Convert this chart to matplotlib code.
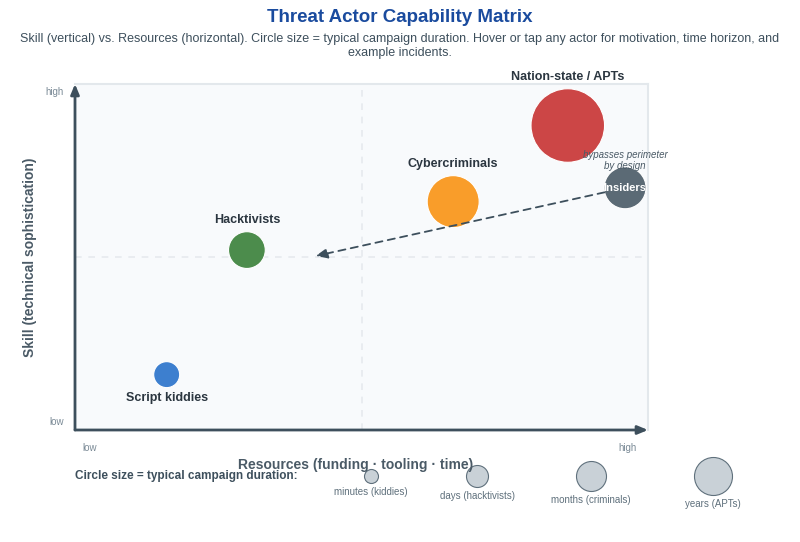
import matplotlib
matplotlib.use("Agg")
import matplotlib.pyplot as plt

plt.rcParams["font.family"] = ["Liberation Sans", "DejaVu Sans"]

# actor positions (resources = x, skill = y), axis range 0..10
actors = ["Script kiddies", "Hacktivists", "Cybercriminals", "Nation-state / APTs", "Insiders"]
resources = [1.6, 3.0, 6.6, 8.6, 9.6]
skill = [1.6, 5.2, 6.6, 8.8, 7.0]
# relative campaign duration weight (bubble area)
duration_weight = [1, 2, 4, 8, 2.6]
colors = ["#3d7fcf", "#4c8c4c", "#f99d2a", "#cc4646", "#5b6a75"]
label_side = ["below", "above", "above", "above", "inside"]

legend_labels = ["minutes (kiddies)", "days (hacktivists)", "months (criminals)", "years (APTs)"]

DARK = "#3d4f5c"
MUTED = "#7a8a96"

fig = plt.figure(figsize=(8, 5.42), dpi=100)
ax = fig.add_axes([75 / 800, 1 - 430 / 542, 573 / 800, 346 / 542])
ax.set_facecolor("#f8fafc")
ax.set_xlim(0, 10)
ax.set_ylim(0, 10)
ax.set_xticks([])
ax.set_yticks([])
for side in ["top", "right"]:
    ax.spines[side].set_color("#e3e8ec")
    ax.spines[side].set_linewidth(1.5)
for side in ["left", "bottom"]:
    ax.spines[side].set_visible(False)

# quadrant guides
ax.axvline(5, color="#e6eaee", lw=1.2, ls=(0, (4, 4)), zorder=1)
ax.axhline(5, color="#e6eaee", lw=1.2, ls=(0, (4, 4)), zorder=1)

# axis arrows
arrow_kw = dict(arrowstyle="-|>,head_length=0.6,head_width=0.25", color=DARK, lw=2, shrinkA=0, shrinkB=0)
ax.annotate("", xy=(0, 1.0), xytext=(0, 0), xycoords="axes fraction", arrowprops=arrow_kw, zorder=5, annotation_clip=False)
ax.annotate("", xy=(1.0, 0), xytext=(0, 0), xycoords="axes fraction", arrowprops=arrow_kw, zorder=5, annotation_clip=False)

# bubbles: diameter in px ~ 26 * sqrt(weight)
px2pt = 72 / fig.dpi
diam_px = [26 * w ** 0.5 for w in duration_weight]
sizes = [(d * px2pt) ** 2 for d in diam_px]
ax.scatter(resources, skill, s=sizes, c=colors, edgecolors="white", linewidths=0.8, zorder=3, clip_on=False)

for name, x, y, d, side in zip(actors, resources, skill, diam_px, label_side):
    r_pt = d / 2 * px2pt
    if side == "above":
        ax.annotate(name, (x, y), xytext=(0, r_pt + 4), textcoords="offset points",
                    ha="center", va="bottom", fontsize=9, fontweight="bold", color="#2b3640", annotation_clip=False)
    elif side == "below":
        ax.annotate(name, (x, y), xytext=(0, -r_pt - 3), textcoords="offset points",
                    ha="center", va="top", fontsize=9, fontweight="bold", color="#2b3640")
    else:
        ax.text(x, y, name, ha="center", va="center", fontsize=8, fontweight="bold", color="white", zorder=6)

# insider arrow: bypasses perimeter toward the centre
ins = actors.index("Insiders")
ins_r_pt = diam_px[ins] / 2 * px2pt
ax.annotate("", xy=(4.2, 5.03), xytext=(resources[ins], skill[ins]),
            arrowprops=dict(arrowstyle="-|>,head_length=0.7,head_width=0.3", color=DARK, lw=1.3,
                            ls=(0, (4, 3)), shrinkA=ins_r_pt, shrinkB=0), zorder=4)
ax.annotate("bypasses perimeter\nby design", (resources[ins], skill[ins]), xytext=(0, ins_r_pt - 3),
            textcoords="offset points", ha="center", va="bottom", fontsize=7, style="italic",
            color="#4a5a66", linespacing=1.15, annotation_clip=False, zorder=7)

# end labels
ax.text(-0.02, 0.976, "high", transform=ax.transAxes, ha="right", va="center", fontsize=7, color=MUTED)
ax.text(-0.02, 0.023, "low", transform=ax.transAxes, ha="right", va="center", fontsize=7, color=MUTED)
ax.text(0.026, -0.052, "low", transform=ax.transAxes, ha="center", va="center", fontsize=7, color=MUTED)
ax.text(0.965, -0.052, "high", transform=ax.transAxes, ha="center", va="center", fontsize=7, color=MUTED)

# axis titles
fig.text(356 / 800, 1 - 465 / 542, "Resources (funding · tooling · time)", ha="center", va="center",
         fontsize=10, fontweight="bold", color="#4a5a66")
fig.text(30 / 800, 1 - 257 / 542, "Skill (technical sophistication)", ha="center", va="center",
         rotation=90, fontsize=10, fontweight="bold", color="#4a5a66")

# titles
fig.text(0.5, 1 - 18 / 542, "Threat Actor Capability Matrix", ha="center", va="center",
         fontsize=13.5, fontweight="bold", color="#1a4b9e")
fig.text(0.5, 1 - 46 / 542,
         "Skill (vertical) vs. Resources (horizontal). Circle size = typical campaign duration. Hover or tap any actor for motivation, time horizon, and\nexample incidents.",
         ha="center", va="center", fontsize=9, color=DARK, linespacing=1.15)

# size legend in pixel space
lg = fig.add_axes([0, 0, 1, 1], zorder=-1)
lg.set_xlim(0, 800)
lg.set_ylim(542, 0)
lg.axis("off")
lg.text(75, 476, "Circle size = typical campaign duration:", ha="left", va="center",
        fontsize=8.5, fontweight="bold", color=DARK)
cx = 371
prev_r = None
for i, lab in enumerate(legend_labels):
    r = 7 + 4 * i
    if prev_r is not None:
        cx += prev_r + r + 88
    lg.scatter([cx], [476], s=[(2 * r * px2pt) ** 2], color="#c9d1d7", edgecolors="#5f707c", linewidths=0.8)
    lg.text(cx, 476 + r + 9, lab, ha="center", va="center", fontsize=7, color="#5f707c")
    prev_r = r

fig.savefig("out.png", dpi=100)
